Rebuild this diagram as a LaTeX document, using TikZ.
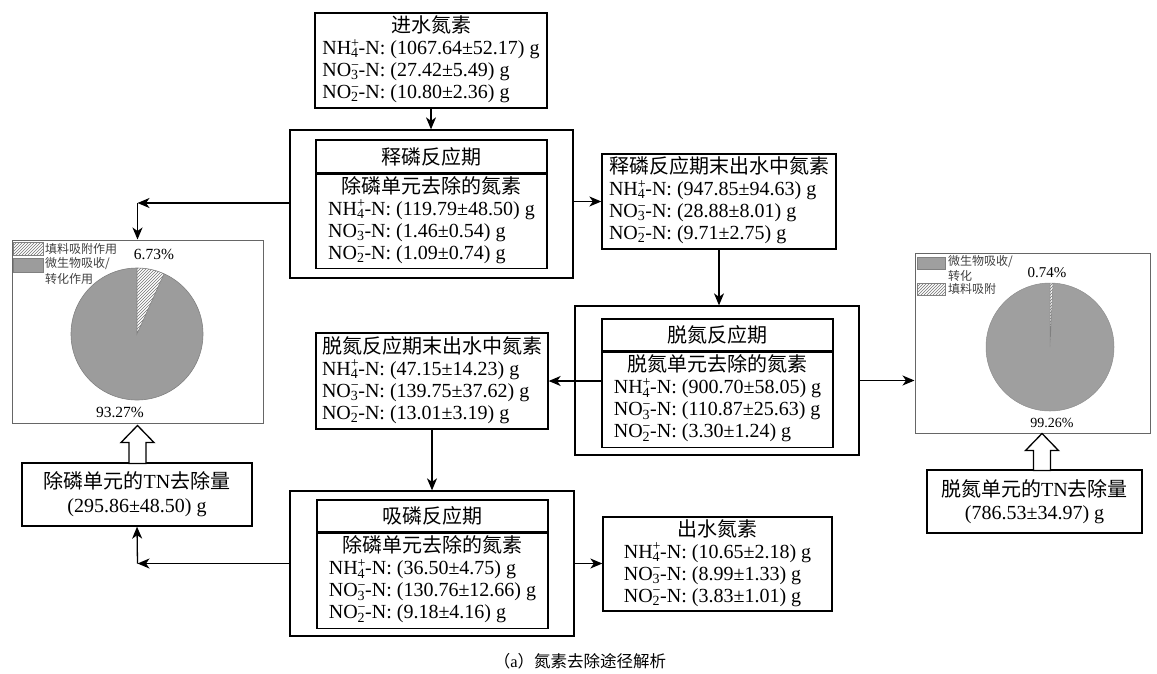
\documentclass[tikz,border=0pt]{standalone}
\usepackage{fontspec}
\setmainfont{Liberation Serif}
\newfontfamily\cjk{Noto Sans CJK SC}
\usetikzlibrary{arrows.meta,patterns,calc}
\newcommand{\zh}[1]{{\cjk #1}}
\newcommand{\ionx}[3]{#1\rlap{\textsuperscript{#3}}\textsubscript{#2}}
\newcommand{\blk}[2]{\begin{tabular}{@{}l@{}}\multicolumn{1}{@{}c@{}}{#1}\\#2\end{tabular}}
\newcommand{\nlines}[3]{\ionx{NH}{4}{+}-N: (#1) g\\\ionx{NO}{3}{−}-N: (#2) g\\\ionx{NO}{2}{−}-N: (#3) g}
\begin{document}
\begin{tikzpicture}[x=1pt,y=-1pt,
  font=\fontsize{20}{22}\selectfont,
  >={Stealth[length=12pt,width=10pt,inset=3.5pt]},
  box/.style={draw, line width=1.3pt, inner sep=0pt},
  arr/.style={->, line width=1.3pt},
  piebox/.style={draw=black!60, line width=1pt, inner sep=0pt},
  legtext/.style={anchor=west, inner sep=0pt, text=black!75, font=\fontsize{12}{14}\selectfont\cjk},
  pct/.style={inner sep=0pt, font=\fontsize{15.5}{18}\selectfont},
  hollow/.style={draw, fill=white, line width=1.3pt, line join=miter}]
\useasboundingbox (0,0) rectangle (1157,673);

% ---------- data boxes ----------
\node[box, minimum width=232, minimum height=95] (in) at (431,60.5)
  {\blk{\zh{进水氮素}}{\nlines{1067.64±52.17}{27.42±5.49}{10.80±2.36}}};

% phase 1: phosphorus release
\node[box, minimum width=283, minimum height=148] (outer1) at (431.5,204) {};
\node[box, minimum width=231, minimum height=33] (head1) at (431.5,156.5) {\zh{释磷反应期}};
\node[box, minimum width=231, minimum height=94, anchor=north] (body1) at (head1.south)
  {\blk{\zh{除磷单元去除的氮素}}{\nlines{119.79±48.50}{1.46±0.54}{1.09±0.74}}};

\node[box, minimum width=234, minimum height=95] (out1) at (719,201.5)
  {\blk{\zh{释磷反应期末出水中氮素}}{\nlines{947.85±94.63}{28.88±8.01}{9.71±2.75}}};

% phase 2: denitrification
\node[box, minimum width=284, minimum height=149] (outer2) at (717,380.5) {};
\node[box, minimum width=231, minimum height=32] (head2) at (717.5,335) {\zh{脱氮反应期}};
\node[box, minimum width=231, minimum height=95, anchor=north] (body2) at (head2.south)
  {\blk{\zh{脱氮单元去除的氮素}}{\nlines{900.70±58.05}{110.87±25.63}{3.30±1.24}}};

\node[box, minimum width=232, minimum height=96] (out2) at (432,381)
  {\blk{\zh{脱氮反应期末出水中氮素}}{\nlines{47.15±14.23}{139.75±37.62}{13.01±3.19}}};

% phase 3: phosphorus uptake
\node[box, minimum width=284, minimum height=145] (outer3) at (432,563.5) {};
\node[box, minimum width=231, minimum height=32] (head3) at (432.5,516) {\zh{吸磷反应期}};
\node[box, minimum width=231, minimum height=95, anchor=north] (body3) at (head3.south)
  {\blk{\zh{除磷单元去除的氮素}}{\nlines{36.50±4.75}{130.76±12.66}{9.18±4.16}}};

\node[box, minimum width=229, minimum height=94] (out3) at (717.5,564)
  {\blk{\zh{出水氮素}}{\nlines{10.65±2.18}{8.99±1.33}{3.83±1.01}}};

% ---------- TN boxes ----------
\node[box, minimum width=230, minimum height=63, align=center] (tnL) at (137,494.5)
  {\zh{除磷单元的}TN\zh{去除量}\\[2pt](295.86±48.50) g};
\node[box, minimum width=215, minimum height=63, align=center] (tnR) at (1034.5,501.5)
  {\zh{脱氮单元的}TN\zh{去除量}\\[1pt](786.53±34.97) g};

% ---------- pie boxes ----------
\node[piebox, minimum width=251, minimum height=183] (pieL) at (137.5,331.5) {};
\node[piebox, minimum width=235, minimum height=180] (pieR) at (1032.5,343) {};

\begin{scope}[shift={(137,334)},yscale=-1]
  \fill[gray!78] (0,0) circle[radius=66];
  \fill[white] (0,0) -- (90:66) arc[start angle=90,end angle=65.8,radius=66] -- cycle;
  \fill[pattern=north east lines, pattern color=black!55] (0,0) -- (90:66) arc[start angle=90,end angle=65.8,radius=66] -- cycle;
  \draw[black!50, line width=0.6pt] (0,0) circle[radius=66];
  \draw[black!50, line width=0.6pt] (90:66) -- (0,0) -- (65.8:66);
\end{scope}
\begin{scope}[shift={(1050,347)},yscale=-1]
  \fill[gray!75] (0,0) circle[radius=64];
  \fill[white] (0,0) -- (90:64) arc[start angle=90,end angle=87.3,radius=64] -- cycle;
  \fill[pattern=north east lines, pattern color=black!55] (0,0) -- (90:64) arc[start angle=90,end angle=87.3,radius=64] -- cycle;
  \draw[black!45, line width=0.5pt] (0,0) circle[radius=64];
  \draw[black!50, line width=0.5pt] (90:64) -- (0,0) -- (87.3:64);
\end{scope}

% legends
\fill[white] (13,242) rectangle (43,255);
\fill[pattern=north east lines, pattern color=black!55] (13,242) rectangle (43,255);
\draw[black!50, line width=0.5pt] (13,242) rectangle (43,255);
\filldraw[fill=gray!78, draw=black!50, line width=0.5pt] (13,258) rectangle (43,272);
\node[legtext] (lgL1) at (45,249) {填料吸附作用};
\node[legtext] (lgL2) at (45,264) {微生物吸收/};
\node[legtext] (lgL3) at (45,279) {转化作用};

\filldraw[fill=gray!75, draw=black!50, line width=0.5pt] (917,257) rectangle (945,269);
\fill[white] (917,283) rectangle (945,295);
\fill[pattern=north east lines, pattern color=black!55] (917,283) rectangle (945,295);
\draw[black!50, line width=0.5pt] (917,283) rectangle (945,295);
\node[legtext] (lgR1) at (948,262) {微生物吸收/};
\node[legtext] (lgR2) at (948,276) {转化};
\node[legtext] (lgR3) at (948,289) {填料吸附};

\node[pct] (pL1) at (154,254) {6.73\%};
\node[pct] (pL2) at (120,412) {93.27\%};
\node[pct, font=\fontsize{15}{18}\selectfont] (pR1) at (1047,273) {0.74\%};
\node[pct, font=\fontsize{14}{17}\selectfont] (pR2) at (1052,423) {99.26\%};

% ---------- connectors ----------
\draw[arr] (in.south) -- (in.south |- outer1.north);
\draw[arr] (outer1.east |- out1.west) -- (out1.west);
\coordinate (cL1) at (pieL.north |- 0,203);
\draw[arr] (outer1.west |- cL1) -- (cL1);
\draw[arr] (cL1) -- (pieL.north);
\draw[arr] (out1.south) -- (out1.south |- outer2.north);
\draw[arr] (out2.east -| body2.west) -- (out2.east);
\draw[arr] (outer2.east) -- (outer2.east -| pieR.west);
\draw[arr] (out2.south) -- (out2.south |- outer3.north);
\draw[arr] (outer3.east) -- (outer3.east -| out3.west);
\coordinate (cL2) at (pieL.north |- outer3.west);
\draw[arr] (outer3.west) -- (cL2);
\draw[arr] (cL2) -- (tnL.south);

% hollow arrows
\draw[hollow] ($(pieL.south)+(0,2)$) -- ++(16.5,17) -- ++(-8,0) -- ++(0,21) -- ++(-17,0) -- ++(0,-21) -- ++(-8,0) -- cycle;
\coordinate (tipR) at ($(pieR.south)+(9.5,0)$);
\draw[hollow] (tipR) -- ++(16.5,17) -- ++(-8,0) -- ++(0,20) -- ++(-17,0) -- ++(0,-20) -- ++(-8,0) -- cycle;

% caption
\node (cap) at (580,661) {\fontsize{16.5}{19}\selectfont\zh{（}a\zh{）氮素去除途径解析}};
\end{tikzpicture}
\end{document}
